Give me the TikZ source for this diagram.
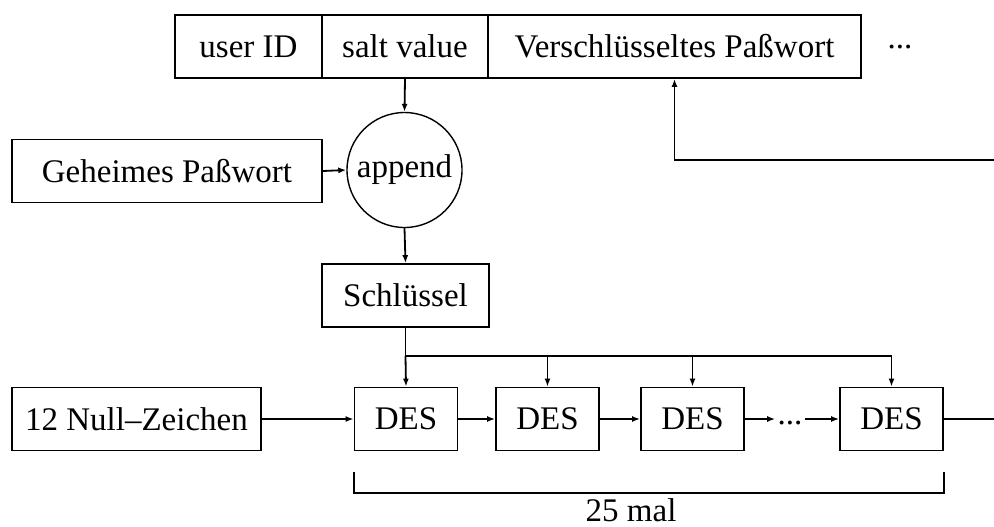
\documentclass[tikz,border=0pt]{standalone}
\usepackage{fontspec}
\setmainfont{Liberation Serif}
\usetikzlibrary{arrows.meta}
\begin{document}
\begin{tikzpicture}[x=0.5pt,y=-0.5pt,
  font=\fontsize{16.5}{20}\selectfont,
  box/.style={draw,line width=0.9pt,inner sep=0pt,minimum height=31.5pt},
  conn/.style={line width=0.9pt,-{Latex[length=4pt,width=3pt]}},
  line/.style={line width=0.9pt}]
\useasboundingbox (0,0) rectangle (994,526);
% top record
\node[box,minimum width=73.5pt] (uid) at (248.5,46.5) {user ID};
\node[box,minimum width=83pt] (salt) at (405,46.5) {salt value};
\node[box,minimum width=186.5pt] (ver) at (674.5,46.5) {Verschlüsseltes Paßwort};
\node[inner sep=0pt] (more) at (900,47) {...};
% append
\node[draw,circle,line width=0.7pt,minimum size=57.5pt,inner sep=0pt] (app) at (404.5,170) {append};
\node[box,minimum width=155pt] (geh) at (167,171) {Geheimes Paßwort};
\node[box,minimum width=83.5pt] (key) at (405.5,295.5) {Schlüssel};
% DES row
\node[box,minimum width=124.5pt] (null) at (136.5,419) {12 Null--Zeichen};
\node[box,minimum width=51.5pt] (d1) at (406,419) {DES};
\node[box,minimum width=51.5pt] (d2) at (547.5,419) {DES};
\node[box,minimum width=51.5pt] (d3) at (692.5,419) {DES};
\node[inner sep=1pt,text height=0.7em,text depth=0.2em] (dots) at (790,419) {...};
\node[box,minimum width=51.5pt] (d4) at (891.5,419) {DES};
\coordinate (k) at (405.5,356);
\coordinate (out) at (994,419);
\coordinate (back) at (994,160);
% connectors
\draw[conn] (salt.south) -- (app.north);
\draw[conn] (geh.east) -- (app.west);
\draw[conn] (app.south) -- (key.north);
\draw[line] (key.south) -- (k);
\draw[conn] (k) -- (d1.north);
\draw[conn] (k) -| (d2.north);
\draw[conn] (k) -| (d3.north);
\draw[conn] (k) -| (d4.north);
\draw[conn] (null.east) -- (d1.west);
\draw[conn] (d1.east) -- (d2.west);
\draw[conn] (d2.east) -- (d3.west);
\draw[conn] (d3.east) -- (dots.west);
\draw[conn] (dots.east) -- (d4.west);
\draw[line] (d4.east) -- (out);
\draw[conn] (back) -| (ver.south);
% bracket
\draw[line] (d1.west |- 0,472) -- (d1.west |- 0,493) -- node[below=-1pt,pos=0.47] (lbl) {25 mal} (d4.east |- 0,493) -- (d4.east |- 0,472);
\end{tikzpicture}
\end{document}
